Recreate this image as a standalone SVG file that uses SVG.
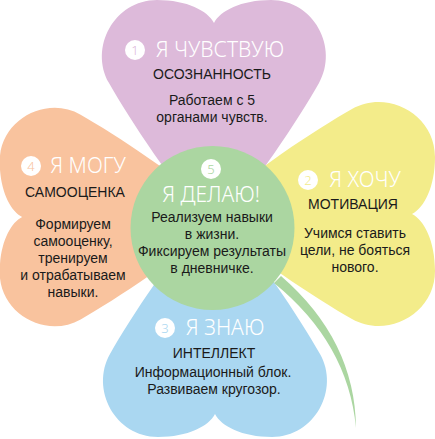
<svg xmlns="http://www.w3.org/2000/svg" width="435" height="439" viewBox="0 0 435 439">
<defs>
<path id="heart" d="M0,0 C-40,-40 -85,-110 -105,-145 C-125,-180 -100,-228 -57,-228 C-27,-228 -6,-217 0,-205 C6,-217 27,-228 57,-228 C100,-228 125,-180 105,-145 C85,-110 40,-40 0,0 Z"/>
</defs>
<style>
.t{text-anchor:middle}
.h{font-family:"Noto Sans","Open Sans","DejaVu Sans",sans-serif;fill:#fff;font-size:21px;font-weight:300}
.c{font-family:"Liberation Sans","Arial",sans-serif;fill:#1a1a1a;font-size:14px}
.b{font-family:"Liberation Sans","Arial",sans-serif;fill:#1a1a1a;font-size:14px}
.n{font-family:"Noto Sans","Open Sans","DejaVu Sans",sans-serif;font-size:13px;font-weight:300}
.dot{fill:#fff}
</style>
<rect width="435" height="439" fill="#fff"/>
<g id="hearts">
<g id="heart3"><use href="#heart" transform="translate(215,209) rotate(180)" fill="#AAD7F1"/></g>
<g id="heart2"><use href="#heart" transform="translate(207,214) rotate(90)" fill="#F3EC8A"/></g>
<g id="heart4"><use href="#heart" transform="translate(222,217) rotate(-90) scale(0.975)" fill="#F9C39E"/></g>
<g id="heart1"><use href="#heart" transform="translate(214,228)" fill="#DDBADA"/></g>
</g>
<g id="connectors">
<path d="M281,276 Q355,340 356,428 Q348,343 274,283 Z" fill="#ABD6A1"/>
</g>
<g id="center"><circle cx="212.5" cy="228" r="82" fill="#ABD6A1"/></g>

<g id="node1">
<circle class="dot" cx="135" cy="50" r="10"/>
<text class="t n" x="135" y="55" fill="#DDBADA">1</text>
<text class="t h" x="220" y="57">Я ЧУВСТВУЮ</text>
<text class="t c" x="212" y="79">ОСОЗНАННОСТЬ</text>
<text class="t b" x="212" y="105">Работаем с 5</text>
<text class="t b" x="212" y="122">органами чувств.</text>
</g>
<g id="node2">
<circle class="dot" cx="308" cy="180" r="10"/>
<text class="t n" x="308" y="185" fill="#F3EC8A">2</text>
<text class="t h" x="365" y="187">Я ХОЧУ</text>
<text class="t c" x="353" y="209">МОТИВАЦИЯ</text>
<text class="t b" x="355" y="238">Учимся ставить</text>
<text class="t b" x="355" y="255">цели, не бояться</text>
<text class="t b" x="355" y="272">нового.</text>
</g>
<g id="node3">
<circle class="dot" cx="165" cy="328" r="10"/>
<text class="t n" x="165" y="333" fill="#AAD7F1">3</text>
<text class="t h" x="225" y="335">Я ЗНАЮ</text>
<text class="t c" x="214" y="358">ИНТЕЛЛЕКТ</text>
<text class="t b" x="213" y="377">Информационный блок.</text>
<text class="t b" x="214" y="394">Развиваем кругозор.</text>
</g>
<g id="node4">
<circle class="dot" cx="31" cy="166" r="10"/>
<text class="t n" x="31" y="171" fill="#F9C39E">4</text>
<text class="t h" x="88" y="173">Я МОГУ</text>
<text class="t c" x="75" y="197">САМООЦЕНКА</text>
<text class="t b" x="73" y="229">Формируем</text>
<text class="t b" x="73" y="246">самооценку,</text>
<text class="t b" x="73" y="263">тренируем</text>
<text class="t b" x="73" y="280">и отрабатываем</text>
<text class="t b" x="73" y="297">навыки.</text>
</g>
<g id="node5">
<circle class="dot" cx="211" cy="169" r="10"/>
<text class="t n" x="211" y="174" fill="#ABD6A1">5</text>
<text class="t h" x="211" y="202">Я ДЕЛАЮ!</text>
<text class="t b" x="212" y="222">Реализуем навыки</text>
<text class="t b" x="212" y="239">в жизни.</text>
<text class="t b" x="212" y="256">Фиксируем результаты</text>
<text class="t b" x="212" y="273">в дневничке.</text>
</g>
</svg>
